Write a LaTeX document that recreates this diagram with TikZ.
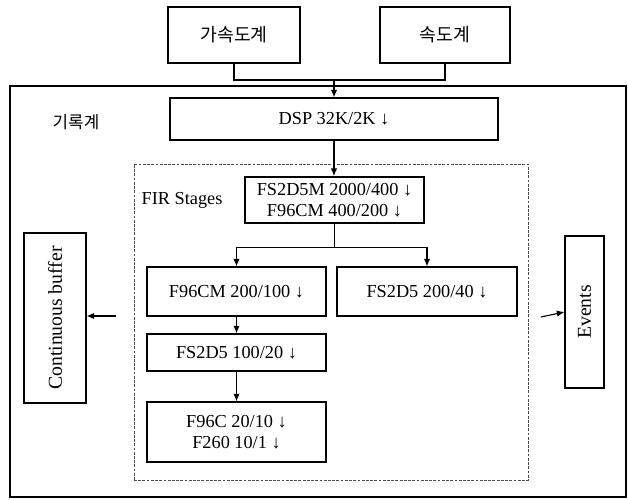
\documentclass[tikz,border=0pt]{standalone}
\usepackage{fontspec}
\setmainfont{Liberation Serif}
\newfontfamily\kor{Noto Sans CJK KR}
\usetikzlibrary{arrows.meta}
\begin{document}
\begin{tikzpicture}[
  font=\fontsize{13}{15}\selectfont,
  sensor/.style={draw, rectangle, line width=2pt, minimum width=3.3cm, minimum height=1.4cm, font=\kor\fontsize{13}{15}\selectfont},
  stage/.style={draw, rectangle, line width=0.8pt, minimum width=4.5cm, align=center, inner sep=1pt},
  sidebox/.style={draw, rectangle, line width=0.8pt, rotate=90, font=\fontsize{14}{16}\selectfont},
  >={Latex[length=1.9mm,width=1.6mm]}
]
\useasboundingbox (0,0) rectangle (15.7,-12.5);
% recorder and filter group
\node[draw, rectangle, line width=2pt, minimum width=15.4cm, minimum height=10.275cm] (recorder) at (7.95,-7.2875) {};
\node[draw, rectangle, gray!60!black, line width=0.5pt, dash pattern=on 2pt off 1pt, minimum width=9.85cm, minimum height=7.9cm] (firbox) at (8.275,-8.05) {};
\node[font=\kor\fontsize{12}{14}\selectfont] (reclabel) at (1.9,-3.05) {기록계};
\node (firlabel) at (4.55,-5.0) {FIR Stages};
% sensors
\node[sensor] (accel) at (5.85,-0.875) {가속도계};
\node[sensor, minimum width=3.25cm] (velo) at (11.125,-0.875) {속도계};
% stages
\node[stage, minimum width=8.2cm, minimum height=1.05cm] (dsp) at (8.35,-2.975) {DSP 32K/2K ↓};
\node[stage, line width=1.3pt, minimum width=4.475cm, minimum height=1.15cm] (fs2d5m) at (8.3625,-5.0) {FS2D5M 2000/400 ↓\\F96CM 400/200 ↓};
\node[stage, minimum width=4.475cm, minimum height=1.225cm] (f96cm) at (5.9125,-7.2875) {F96CM 200/100 ↓};
\node[stage, minimum height=1.225cm] (fs2d5a) at (10.675,-7.2875) {FS2D5 200/40 ↓};
\node[stage, minimum width=4.475cm, minimum height=0.925cm] (fs2d5b) at (5.9125,-8.8125) {FS2D5 100/20 ↓};
\node[stage, minimum width=4.475cm, minimum height=1.5cm] (f96c) at (5.9125,-10.8) {F96C 20/10 ↓\\F260 10/1 ↓};
% outputs
\node[sidebox, minimum width=4.25cm, minimum height=1.55cm] (cbuf) at (1.375,-7.95) {Continuous buffer};
\node[sidebox, minimum width=3.8cm, minimum height=0.975cm] (events) at (14.6125,-7.8) {Events};
\coordinate (join) at (8.35,-2.0);
\coordinate (cbufin) at (2.9,-7.9);
\coordinate (evout) at (13.525,-7.925);
% connectors
\draw[line width=0.8pt] (accel.south) |- (join) -| (velo.south);
\draw[->, line width=0.8pt] (join) -- (dsp.north);
\draw[->, line width=0.8pt] (dsp.south) -- (dsp.south |- fs2d5m.north);
\draw[->, line width=0.8pt] (fs2d5m.south) -- +(0,-0.6) -| (f96cm.north);
\draw[->, line width=0.8pt] (fs2d5m.south) -- +(0,-0.6) -| (fs2d5a.north);
\draw[->, line width=0.8pt] (f96cm) -- (fs2d5b);
\draw[->, line width=0.8pt] (fs2d5b) -- (f96c);
\draw[->, line width=0.8pt] (cbufin) -- (cbufin -| cbuf.south);
\draw[->, line width=0.8pt] (evout) -- (events.north);
\end{tikzpicture}
\end{document}
